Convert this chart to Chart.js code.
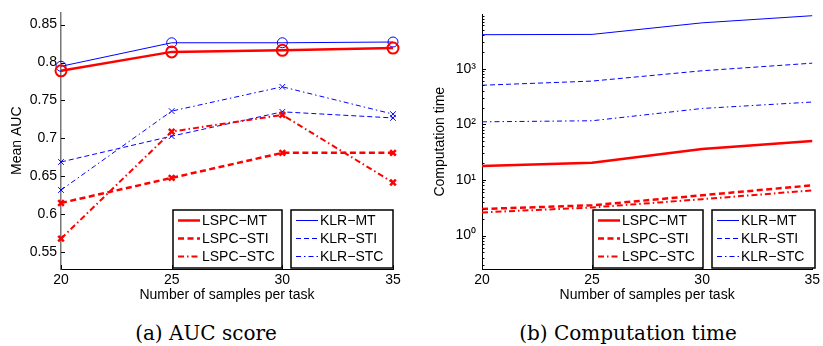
<!DOCTYPE html>
<html>
<head>
<meta charset="utf-8">
<script src="https://cdn.jsdelivr.net/npm/chart.js@4.4.1/dist/chart.umd.min.js"></script>
<style>
  body { margin: 0; background: #fff; }
  #wrap { position: relative; width: 823px; height: 346px; overflow: hidden; }
  canvas { position: absolute; top: 0; }
  .cap { position: absolute; top: 321px; width: 300px; text-align: center;
         font-family: "DejaVu Serif", serif; font-size: 20px; line-height: 24px; color: #000; }
</style>
</head>
<body>
<div id="wrap">
  <canvas id="auc" width="410" height="310" style="left:0"></canvas>
  <canvas id="time" width="412" height="310" style="left:411px"></canvas>
  <div class="cap" style="left:56px">(a) AUC score</div>
  <div class="cap" style="left:478px">(b) Computation time</div>
</div>
<script>
var samples = [20, 25, 30, 35];

var aucLspcMt  = [0.789, 0.814, 0.816, 0.819];
var aucLspcSti = [0.615, 0.648, 0.681, 0.681];
var aucLspcStc = [0.568, 0.709, 0.731, 0.642];
var aucKlrMt   = [0.795, 0.826, 0.826, 0.827];
var aucKlrSti  = [0.669, 0.703, 0.735, 0.727];
var aucKlrStc  = [0.632, 0.736, 0.768, 0.732];

var timeLspcMt  = [17.9, 20.4, 36, 50];
var timeLspcSti = [3.0, 3.5, 5.3, 8.0];
var timeLspcStc = [2.6, 3.2, 4.5, 6.5];
var timeKlrMt   = [4100, 4150, 6700, 9000];
var timeKlrSti  = [505, 600, 920, 1260];
var timeKlrStc  = [111, 116, 193, 252];

var aucTicks = [0.55, 0.6, 0.65, 0.7, 0.75, 0.8, 0.85];
var timeTicks = [1, 10, 100, 1000];
var supers = {0: '\u2070', 1: '\u00b9', 2: '\u00b2', 3: '\u00b3'};

Chart.defaults.font.family = "'Liberation Sans', Arial, sans-serif";
Chart.defaults.font.size = 14;
Chart.defaults.color = '#000';

var RED = '#ff0000', BLUE = '#0000ff';
var DASH = [6, 3.5], DASHDOT = [6, 3, 1.5, 3];
var DASHB = [5, 3], DASHDOTB = [5, 3, 1.5, 3];

function pts(vals) {
  return vals.map(function(v, i) { return {x: samples[i], y: v}; });
}

function series(label, vals, color, width, dash, marker, radius, mwidth) {
  return {
    label: label,
    data: pts(vals),
    borderColor: color,
    borderWidth: width,
    borderDash: dash,
    pointStyle: marker || 'circle',
    pointRadius: marker ? radius : 0,
    pointBorderWidth: mwidth || width,
    pointBorderColor: color,
    pointBackgroundColor: 'rgba(0,0,0,0)',
    pointHoverRadius: 0,
    tension: 0,
    fill: false,
    clip: false
  };
}

// boxed legends drawn like matlab's two legends
function boxLegend(boxes) {
  return {
    id: 'boxLegend',
    afterDraw: function(chart) {
      var ctx = chart.ctx;
      boxes.forEach(function(b) {
        ctx.save();
        ctx.fillStyle = '#fff';
        ctx.fillRect(b.x, b.y, b.w, b.h);
        ctx.strokeStyle = '#000';
        ctx.lineWidth = 1.5;
        ctx.strokeRect(b.x, b.y, b.w, b.h);
        b.items.forEach(function(di, k) {
          var ds = chart.data.datasets[di];
          var y = b.y + 10.5 + k * 18;
          ctx.beginPath();
          ctx.setLineDash(ds.borderDash || []);
          ctx.lineCap = 'butt';
          ctx.strokeStyle = ds.borderColor;
          ctx.lineWidth = ds.borderWidth;
          ctx.moveTo(b.x + 5, y);
          ctx.lineTo(b.x + 27, y);
          ctx.stroke();
          ctx.setLineDash([]);
          ctx.fillStyle = '#000';
          ctx.font = "14px 'Liberation Sans', Arial, sans-serif";
          ctx.textBaseline = 'middle';
          ctx.fillText(ds.label, b.x + 29, y + 0.5);
        });
        ctx.restore();
      });
    }
  };
}

// inward tick marks
var inTicks = {
  id: 'inTicks',
  afterDraw: function(chart) {
    var ctx = chart.ctx, a = chart.chartArea;
    var xs = chart.scales.x, ys = chart.scales.y;
    ctx.save();
    ctx.strokeStyle = '#000';
    ctx.lineWidth = 1;
    ctx.beginPath();
    xs.ticks.forEach(function(t) {
      var px = Math.round(xs.getPixelForValue(t.value)) + 0.5;
      ctx.moveTo(px, a.bottom);
      ctx.lineTo(px, a.bottom - 4);
    });
    ys.ticks.forEach(function(t) {
      var py = Math.round(ys.getPixelForValue(t.value)) + 0.5;
      ctx.moveTo(a.left, py);
      ctx.lineTo(a.left + 4, py);
    });
    if (ys.type === 'logarithmic') {
      for (var e = -1; e <= 3; e++) {
        for (var m = 2; m <= 9; m++) {
          var v = m * Math.pow(10, e);
          if (v < ys.min || v > ys.max) continue;
          var py = Math.round(ys.getPixelForValue(v)) + 0.5;
          ctx.moveTo(a.left, py);
          ctx.lineTo(a.left + 2.5, py);
        }
      }
    }
    ctx.stroke();
    ctx.restore();
  }
};

function xAxis() {
  return {
    type: 'linear',
    min: 20, max: 35,
    afterBuildTicks: function(s) { s.ticks = samples.map(function(v) { return {value: v}; }); },
    afterFit: function(s) { s.height = 41; },
    grid: { display: false, drawTicks: false },
    border: { display: true, color: '#000', width: 1 },
    ticks: { padding: 3, maxRotation: 0 },
    title: { display: true, text: 'Number of samples per task', padding: { top: 0, bottom: 6.6 } }
  };
}

new Chart(document.getElementById('auc'), {
  type: 'line',
  data: {
    datasets: [
      series('LSPC\u2212MT', aucLspcMt, RED, 2.5, [], 'circle', 5.5, 2),
      series('LSPC\u2212STI', aucLspcSti, RED, 2.5, DASH, 'crossRot', 4, 2.5),
      series('LSPC\u2212STC', aucLspcStc, RED, 2, DASHDOT, 'crossRot', 4, 2.5),
      series('KLR\u2212MT', aucKlrMt, BLUE, 1, [], 'circle', 5, 1),
      series('KLR\u2212STI', aucKlrSti, BLUE, 1, DASHB, 'crossRot', 4, 1),
      series('KLR\u2212STC', aucKlrStc, BLUE, 1, DASHDOTB, 'crossRot', 4, 1)
    ]
  },
  options: {
    responsive: false,
    animation: false,
    layout: { padding: { left: 0, top: 7, right: 17, bottom: 0 } },
    plugins: { legend: { display: false }, tooltip: { enabled: false } },
    scales: {
      x: xAxis(),
      y: {
        type: 'linear',
        min: 0.528, max: 0.866,
        afterBuildTicks: function(s) { s.ticks = aucTicks.map(function(v) { return {value: v}; }); },
        afterFit: function(s) { s.width = 61; },
        grid: { display: false, drawTicks: false },
        border: { display: true, color: '#777', width: 1.5 },
        ticks: { padding: 4, callback: function(v) { return String(Math.round(v * 100) / 100); } },
        title: { display: true, text: 'Mean AUC', padding: { top: 9, bottom: 0 } }
      }
    }
  },
  plugins: [inTicks, boxLegend([
    { x: 173, y: 210, w: 109, h: 58, items: [0, 1, 2] },
    { x: 291, y: 210, w: 102, h: 58, items: [3, 4, 5] }
  ])]
});

new Chart(document.getElementById('time'), {
  type: 'line',
  data: {
    datasets: [
      series('LSPC\u2212MT', timeLspcMt, RED, 2.5, []),
      series('LSPC\u2212STI', timeLspcSti, RED, 2.5, DASH),
      series('LSPC\u2212STC', timeLspcStc, RED, 2, DASHDOT),
      series('KLR\u2212MT', timeKlrMt, BLUE, 1, []),
      series('KLR\u2212STI', timeKlrSti, BLUE, 1, DASHB),
      series('KLR\u2212STC', timeKlrStc, BLUE, 1, DASHDOTB)
    ]
  },
  options: {
    responsive: false,
    animation: false,
    layout: { padding: { left: 0, top: 7, right: 9, bottom: 0 } },
    plugins: { legend: { display: false }, tooltip: { enabled: false } },
    scales: {
      x: xAxis(),
      y: {
        type: 'logarithmic',
        min: 0.25, max: 9500,
        afterBuildTicks: function(s) { s.ticks = timeTicks.map(function(v) { return {value: v}; }); },
        afterFit: function(s) { s.width = 71; },
        grid: { display: false, drawTicks: false },
        border: { display: true, color: '#000', width: 1 },
        ticks: { padding: 6, callback: function(v) { return '10' + supers[Math.round(Math.log10(v))]; } },
        title: { display: true, text: 'Computation time', padding: { top: 20.6, bottom: 0 } }
      }
    }
  },
  plugins: [inTicks, boxLegend([
    { x: 182, y: 210, w: 110, h: 58, items: [0, 1, 2] },
    { x: 301, y: 210, w: 103, h: 58, items: [3, 4, 5] }
  ])]
});
</script>
</body>
</html>
